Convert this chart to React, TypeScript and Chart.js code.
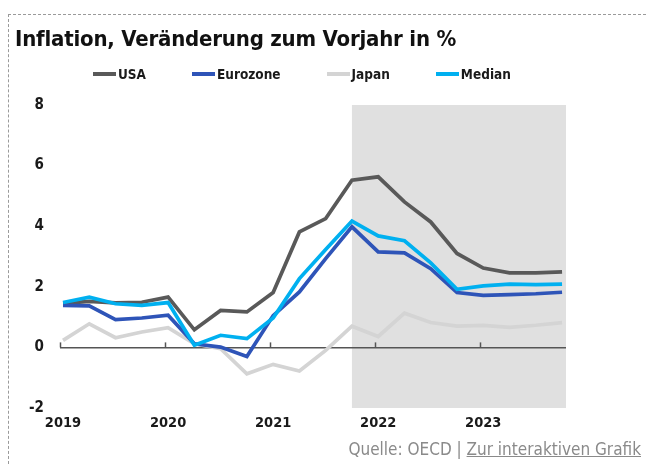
import React, { useEffect, useRef } from "react";
import { Chart, registerables } from "chart.js";

Chart.register(...registerables);

const quarters = [
  "2019 Q1", "2019 Q2", "2019 Q3", "2019 Q4",
  "2020 Q1", "2020 Q2", "2020 Q3", "2020 Q4",
  "2021 Q1", "2021 Q2", "2021 Q3", "2021 Q4",
  "2022 Q1", "2022 Q2", "2022 Q3", "2022 Q4",
  "2023 Q1", "2023 Q2", "2023 Q3", "2023 Q4",
];
const yearLabels = ["2019", "2020", "2021", "2022", "2023"];

const usa = [1.45, 1.52, 1.47, 1.49, 1.66, 0.58, 1.22, 1.17, 1.81, 3.81, 4.25, 5.52, 5.63, 4.8, 4.14, 3.1, 2.62, 2.46, 2.46, 2.49];
const eurozone = [1.39, 1.37, 0.92, 0.97, 1.06, 0.12, 0.01, -0.3, 1.05, 1.83, 2.93, 3.98, 3.15, 3.12, 2.6, 1.81, 1.72, 1.74, 1.77, 1.82];
const japan = [0.23, 0.78, 0.32, 0.51, 0.65, 0.12, -0.04, -0.87, -0.56, -0.78, -0.1, 0.7, 0.36, 1.13, 0.82, 0.7, 0.73, 0.66, 0.73, 0.82];
const median = [1.48, 1.66, 1.44, 1.39, 1.48, 0.07, 0.4, 0.29, 0.97, 2.27, 3.23, 4.17, 3.68, 3.52, 2.79, 1.92, 2.03, 2.09, 2.07, 2.09];

const seriesNames = ["USA", "Eurozone", "Japan", "Median"];
const seriesColors = ["#595959", "#2e54b8", "#d4d4d4", "#00b0f0"];
const shadeFromQuarter = "2021 Q4";

const FONT = '"Liberation Sans Narrow", "DejaVu Sans Condensed", "Roboto Condensed", Roboto, sans-serif';

const toPoints = (arr: number[]) => arr.map((v, i) => ({ x: i, y: v }));

const X_MIN = -0.115;
const X_MAX = 19.15;

const bgPlugin = {
  id: "shade",
  beforeDraw(chart: any) {
    const { ctx, chartArea, scales } = chart;
    const x0 = scales.x.getPixelForValue(quarters.indexOf(shadeFromQuarter));
    const y0 = scales.y.getPixelForValue(8);
    const y1 = scales.y.getPixelForValue(-2);
    ctx.save();
    ctx.fillStyle = "#e0e0e0";
    ctx.fillRect(x0, y0, chartArea.right - x0, y1 - y0);
    ctx.restore();
  },
  beforeDatasetsDraw(chart: any) {
    const { ctx, scales } = chart;
    const y0 = scales.y.getPixelForValue(0);
    ctx.save();
    ctx.strokeStyle = "#555";
    ctx.lineWidth = 1.5;
    yearLabels.forEach((_, k) => {
      const px = Math.round(scales.x.getPixelForValue(k * 4 + X_MIN)) + 0.5;
      ctx.beginPath();
      ctx.moveTo(px, y0 - 5);
      ctx.lineTo(px, y0);
      ctx.stroke();
    });
    ctx.restore();
  },
};

export default function App() {
  const ref = useRef<HTMLCanvasElement | null>(null);
  useEffect(() => {
    if (!ref.current) return;
    const values = [usa, eurozone, japan, median];
    const orders = [2, 1, 3, 0];
    const chart = new Chart(ref.current, {
      type: "line",
      data: {
        datasets: values.map((v, i) => ({
          label: seriesNames[i],
          data: toPoints(v),
          borderColor: seriesColors[i],
          backgroundColor: seriesColors[i],
          borderWidth: 3.7,
          pointRadius: 0,
          tension: 0,
          order: orders[i],
          borderJoinStyle: "miter" as const,
        })),
      },
      options: {
        animation: false,
        responsive: false,
        maintainAspectRatio: false,
        layout: { padding: { left: 0, right: 80, top: 105, bottom: 26 } },
        plugins: { legend: { display: false }, tooltip: { enabled: false }, title: { display: false } },
        scales: {
          x: {
            type: "linear",
            min: X_MIN,
            max: X_MAX,
            grid: { display: false, drawTicks: false },
            border: { display: false },
            afterBuildTicks: (scale: any) => {
              scale.ticks = yearLabels.map((_, k) => ({ value: k * 4 }));
            },
            afterFit: (scale: any) => {
              scale.height = 30;
            },
            ticks: {
              autoSkip: false,
              maxRotation: 0,
              padding: 7,
              color: "#1a1a1a",
              font: { family: FONT, size: 14.5, weight: "bold" },
              callback: (v: any) => yearLabels[Math.round(Number(v) / 4)] ?? "",
            },
          },
          y: {
            min: -2,
            max: 8,
            ticks: {
              stepSize: 2,
              padding: 16,
              color: "#1a1a1a",
              font: { family: FONT, size: 15, weight: "bold" },
            },
            grid: {
              drawTicks: false,
              color: (c: any) => (c.tick && c.tick.value === 0 ? "#555555" : "rgba(0,0,0,0)"),
              lineWidth: 1.5,
            },
            border: { display: false },
            afterFit: (scale: any) => {
              scale.width = 60;
            },
          },
        },
      },
      plugins: [bgPlugin],
    });
    return () => chart.destroy();
  }, []);

  return (
    <div style={{ position: "fixed", left: 0, top: 0, width: 646, height: 464, background: "#fff", overflow: "hidden", fontFamily: FONT }}>
      <canvas ref={ref} width={646} height={464} style={{ position: "absolute", left: 0, top: 0, width: 646, height: 464 }} />
      <div style={{ position: "absolute", left: 8, top: 14, right: 0, bottom: 0, borderTop: "1px dashed #9a9a9a", borderLeft: "1px dashed #9a9a9a", pointerEvents: "none" }} />
      <div style={{ position: "absolute", left: 15, top: 26, fontSize: 22, letterSpacing: -0.2, fontWeight: "bold", color: "#111", whiteSpace: "nowrap" }}>
        Inflation, Veränderung zum Vorjahr in %
      </div>
      <div style={{ position: "absolute", left: 93, top: 66, display: "flex", alignItems: "center", gap: 46, fontSize: 13.5, fontWeight: "bold", color: "#1a1a1a", whiteSpace: "nowrap" }}>
        {seriesNames.map((n, i) => (
          <div key={n} style={{ display: "flex", alignItems: "center" }}>
            <span style={{ display: "inline-block", width: 23, height: 4, background: seriesColors[i], marginRight: 2 }} />
            <span>{n}</span>
          </div>
        ))}
      </div>
      <div style={{ position: "absolute", right: 5, top: 439, fontSize: 17, color: "#8a8a8a", whiteSpace: "nowrap" }}>
        Quelle: OECD | <span style={{ textDecoration: "underline" }}>Zur interaktiven Grafik</span>
      </div>
    </div>
  );
}
